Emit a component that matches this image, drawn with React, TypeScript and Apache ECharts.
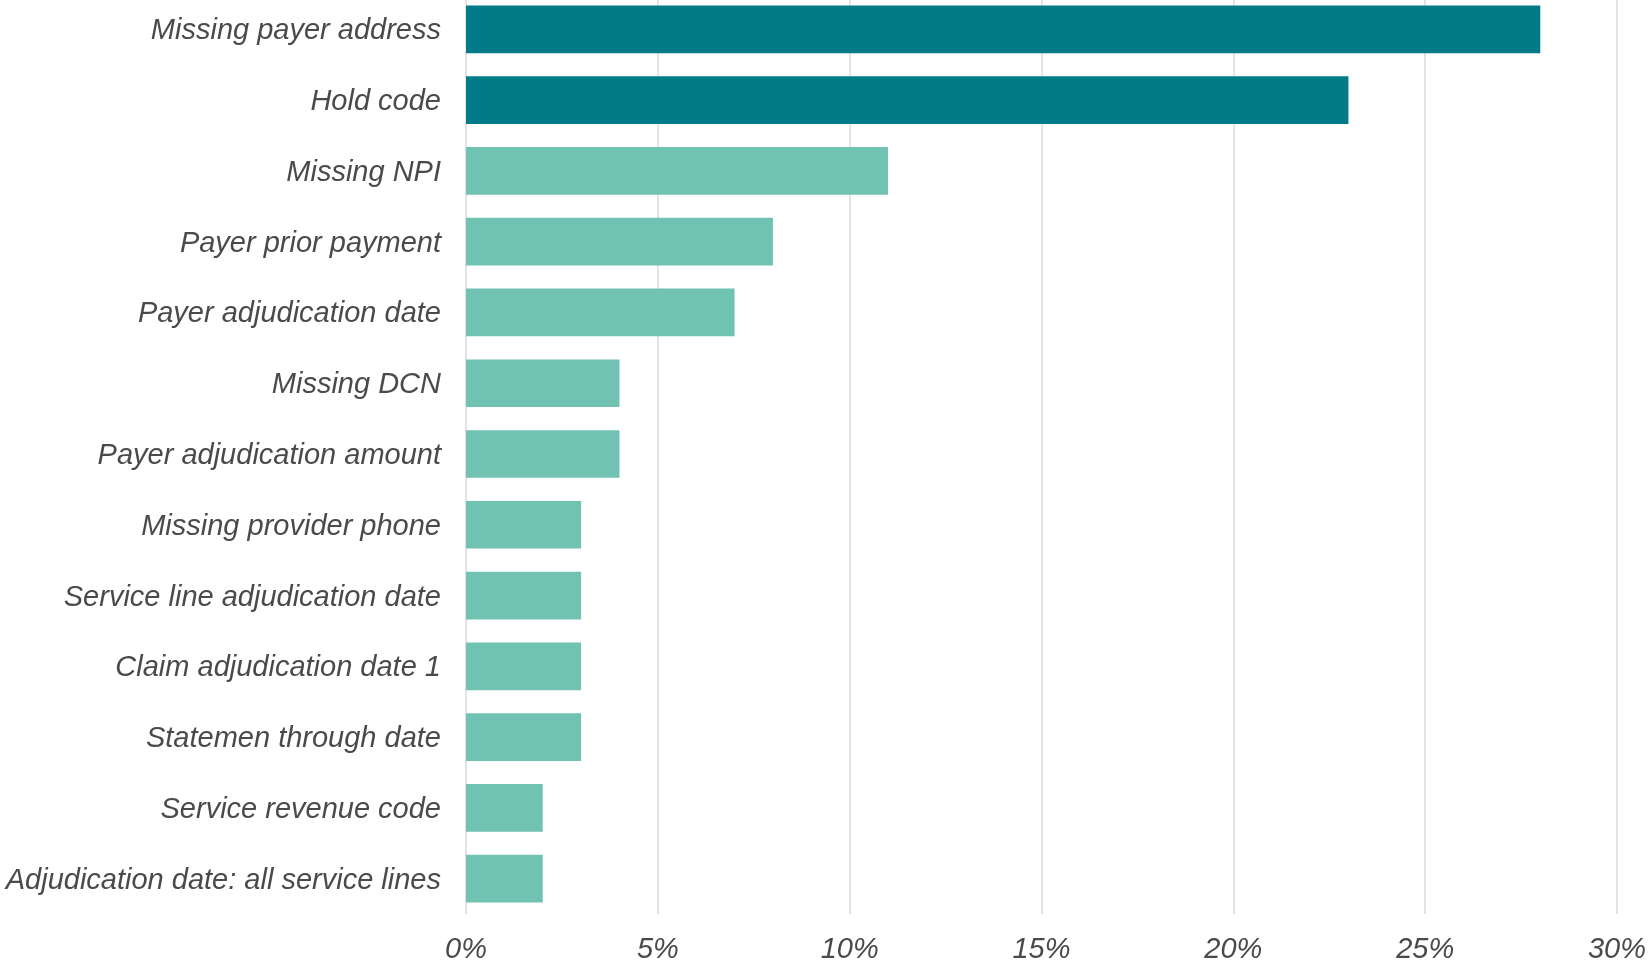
import React, { useEffect, useRef } from "react";
import * as echarts from "echarts";

const categories = [
  "Missing payer address",
  "Hold code",
  "Missing NPI",
  "Payer prior payment",
  "Payer adjudication date",
  "Missing DCN",
  "Payer adjudication amount",
  "Missing provider phone",
  "Service line adjudication date",
  "Claim adjudication date 1",
  "Statemen through date",
  "Service revenue code",
  "Adjudication date: all service lines",
];

const values = [28, 23, 11, 8, 7, 4, 4, 3, 3, 3, 3, 2, 2];

const highlighted = [true, true, false, false, false, false, false, false, false, false, false, false, false];

const xTicks = [0, 5, 10, 15, 20, 25, 30];

const DARK = "#007B87";
const LIGHT = "#70C2B2";
const TEXT = "#4A4A4A";
const FONT = "'Liberation Sans', Arial, sans-serif";

export default function App() {
  const ref = useRef<HTMLDivElement>(null);

  useEffect(() => {
    if (!ref.current) return;
    const chart = echarts.init(ref.current, undefined, { renderer: "svg" });
    chart.setOption({
      animation: false,
      grid: { top: 0, bottom: 51, left: 466, right: 33, containLabel: false },
      xAxis: {
        type: "value",
        min: xTicks[0],
        max: xTicks[xTicks.length - 1],
        interval: 5,
        axisLine: { show: false },
        axisTick: { show: false },
        splitLine: { show: true, lineStyle: { color: "#E3E3E3", width: 2 } },
        axisLabel: {
          formatter: "{value}%",
          color: TEXT,
          fontSize: 29,
          fontStyle: "italic",
          fontFamily: FONT,
          margin: 19,
        },
      },
      yAxis: {
        type: "category",
        data: categories,
        inverse: true,
        axisLine: { show: false },
        axisTick: { show: false },
        axisLabel: {
          color: TEXT,
          fontSize: 29,
          fontStyle: "italic",
          fontFamily: FONT,
          margin: 25,
        },
      },
      series: [
        {
          type: "bar",
          barCategoryGap: "32.6%",
          data: values.map((v, i) => ({
            value: v,
            itemStyle: { color: highlighted[i] ? DARK : LIGHT },
          })),
        },
      ],
    });
    return () => chart.dispose();
  }, []);

  return (
    <div
      ref={ref}
      style={{ position: "fixed", left: 0, top: -6, width: 1650, height: 971 }}
    />
  );
}
